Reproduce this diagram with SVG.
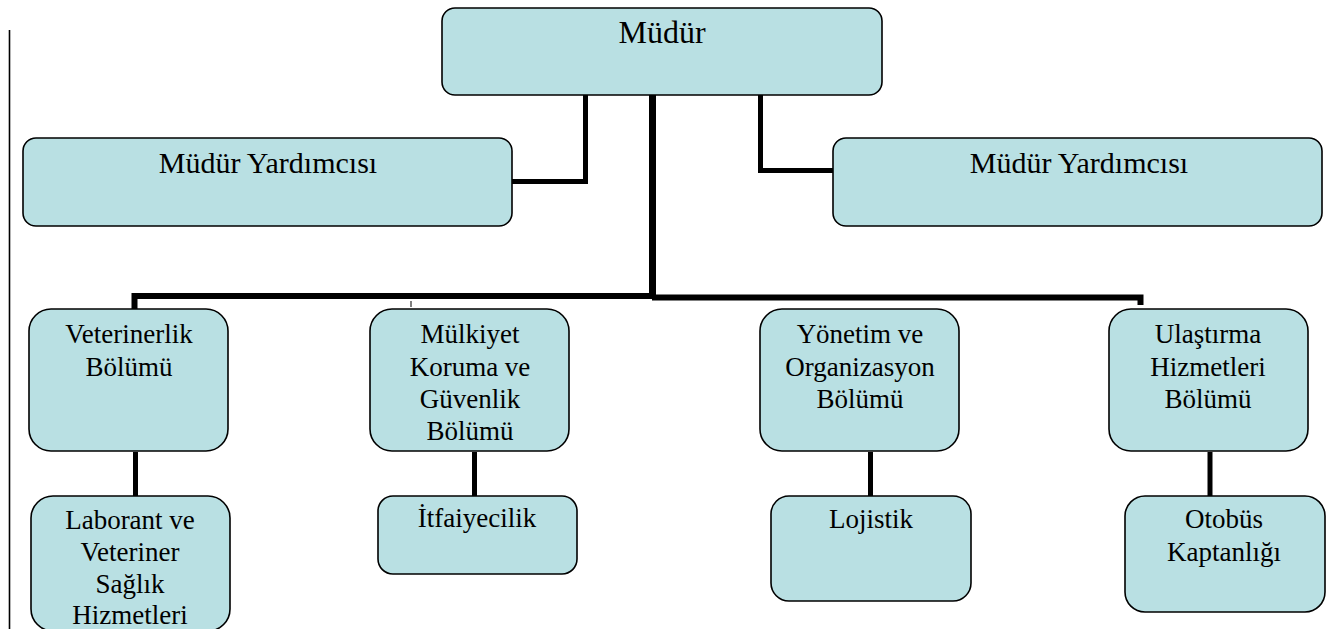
<svg xmlns="http://www.w3.org/2000/svg" width="1342" height="629" viewBox="0 0 1342 629">
<style>
.box{fill:#B9E0E3;stroke:#000;stroke-width:1.6}
.t{font-family:"Liberation Serif","Times New Roman",serif;fill:#000;text-anchor:middle}
.c{fill:none;stroke:#000;stroke-linecap:butt;stroke-linejoin:miter}
</style>
<rect width="1342" height="629" fill="#fff"/>
<line x1="9.5" y1="30" x2="9.5" y2="629" stroke="#000" stroke-width="1.6"/>
<g id="connectors">
<polyline class="c" stroke-width="5" points="512,181.5 585.5,181.5 585.5,95"/>
<polyline class="c" stroke-width="5" points="833,170.5 760.5,170.5 760.5,95"/>
<line class="c" stroke-width="7" x1="652.5" y1="95" x2="652.5" y2="299"/>
<polyline class="c" stroke-width="6" points="134.5,309 134.5,296 652,296"/>
<polyline class="c" stroke-width="6" points="652,297.5 1140.5,297.5 1140.5,305"/>
<line class="c" stroke-width="1" x1="411" y1="301" x2="411" y2="307"/>
<line class="c" stroke-width="5" x1="135.5" y1="452" x2="135.5" y2="496"/>
<line class="c" stroke-width="5" x1="474.5" y1="452" x2="474.5" y2="496"/>
<line class="c" stroke-width="5" x1="870.5" y1="452" x2="870.5" y2="496"/>
<line class="c" stroke-width="5" x1="1210" y1="452" x2="1210" y2="496"/>
</g>
<g id="mudur">
<rect class="box" x="442" y="8" width="440" height="87" rx="13"/>
<text class="t" x="662" y="43" font-size="32">Müdür</text>
</g>
<g id="yardimci-sol">
<rect class="box" x="23" y="138" width="489" height="88" rx="13"/>
<text class="t" x="268" y="173" font-size="30">Müdür Yardımcısı</text>
</g>
<g id="yardimci-sag">
<rect class="box" x="833" y="138" width="489" height="88" rx="13"/>
<text class="t" x="1079" y="173" font-size="30">Müdür Yardımcısı</text>
</g>
<g id="veterinerlik">
<rect class="box" x="29" y="309" width="199" height="142" rx="22"/>
<text class="t" x="129" y="343" font-size="27">Veterinerlik</text>
<text class="t" x="129" y="376" font-size="27">Bölümü</text>
</g>
<g id="mulkiyet">
<rect class="box" x="370" y="309" width="199" height="142" rx="22"/>
<text class="t" x="470" y="343" font-size="27">Mülkiyet</text>
<text class="t" x="470" y="376" font-size="27">Koruma ve</text>
<text class="t" x="470" y="408" font-size="27">Güvenlik</text>
<text class="t" x="470" y="440" font-size="27">Bölümü</text>
</g>
<g id="yonetim">
<rect class="box" x="760" y="309" width="199" height="142" rx="22"/>
<text class="t" x="860" y="343" font-size="27">Yönetim ve</text>
<text class="t" x="860" y="376" font-size="27">Organizasyon</text>
<text class="t" x="860" y="408" font-size="27">Bölümü</text>
</g>
<g id="ulastirma">
<rect class="box" x="1109" y="309" width="199" height="142" rx="22"/>
<text class="t" x="1208" y="343" font-size="27">Ulaştırma</text>
<text class="t" x="1208" y="376" font-size="27">Hizmetleri</text>
<text class="t" x="1208" y="408" font-size="27">Bölümü</text>
</g>
<g id="laborant">
<rect class="box" x="31" y="496" width="199" height="135" rx="22"/>
<text class="t" x="130" y="529" font-size="27">Laborant ve</text>
<text class="t" x="130" y="561" font-size="27">Veteriner</text>
<text class="t" x="130" y="593" font-size="27">Sağlık</text>
<text class="t" x="130" y="624" font-size="27">Hizmetleri</text>
</g>
<g id="itfaiyecilik">
<rect class="box" x="378" y="496" width="199" height="78" rx="15"/>
<text class="t" x="477" y="527" font-size="27">İtfaiyecilik</text>
</g>
<g id="lojistik">
<rect class="box" x="771" y="496" width="200" height="105" rx="18"/>
<text class="t" x="871" y="528" font-size="27">Lojistik</text>
</g>
<g id="otobus">
<rect class="box" x="1125" y="496" width="200" height="116" rx="20"/>
<text class="t" x="1224" y="528" font-size="27">Otobüs</text>
<text class="t" x="1224" y="561" font-size="27">Kaptanlığı</text>
</g>
</svg>
